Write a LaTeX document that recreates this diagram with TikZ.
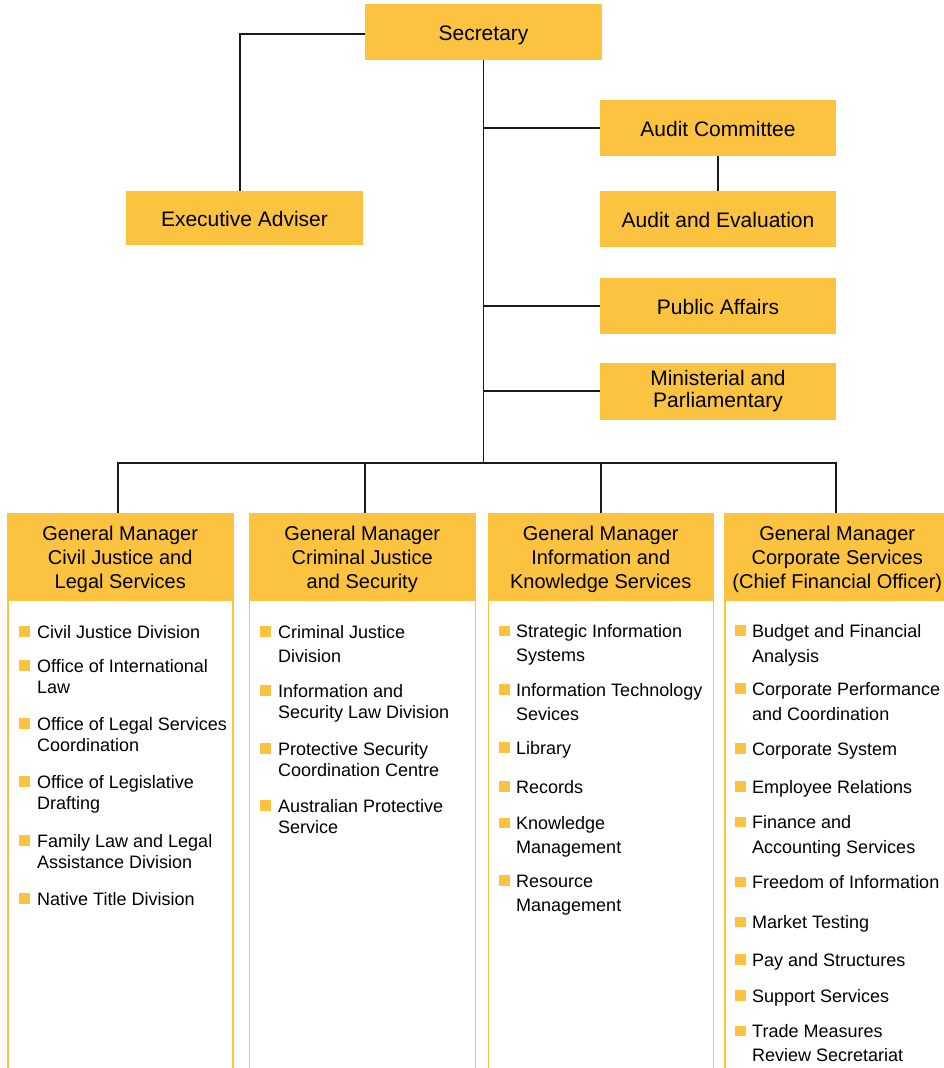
\documentclass[tikz,border=0pt]{standalone}
\usepackage{fontspec}
\setmainfont{Liberation Sans}
\definecolor{gold}{HTML}{FBC33F}
\definecolor{lnk}{HTML}{1A1A1A}
\newcommand\mytxt[2]{\parbox[t]{205pt}{\raggedright\fontsize{18}{#1}\selectfont #2}}
\newcommand\myitem[6]{%
  \node[bul] (#1b) at (#2,#4-6.5) {};
  \node[itm] (#1) at (#3,#4) {\mytxt{#5}{#6}};}
\newcommand\hstrut{\rule{0pt}{19.6pt}}
\begin{document}
\begin{tikzpicture}[x=1pt,y=-1pt,
  topbox/.style={rectangle, fill=gold, inner sep=0pt, font=\fontsize{21}{22}\selectfont, align=center},
  onel/.style={text height=16pt, text depth=0pt},
  colbox/.style={rectangle, draw=gold, line width=1.5pt, fill=white, inner sep=0pt, anchor=north west, minimum height=620pt},
  hdrbox/.style={rectangle, fill=gold, inner sep=0pt, font=\fontsize{20}{24}\selectfont, align=center, anchor=north, minimum height=88pt},
  bul/.style={rectangle, fill=gold, inner sep=0pt, minimum width=11pt, minimum height=10.5pt},
  itm/.style={inner sep=0pt, anchor=base west},
  conn/.style={draw=lnk, line width=1.3pt}]
\useasboundingbox (0,0) rectangle (944,1068);
\fill[white] (0,0) rectangle (944,1068);

% top boxes
\node[topbox, onel, minimum width=237pt, minimum height=56pt] (sec) at (483.5,32) {Secretary};
\node[topbox, onel, minimum width=237pt, minimum height=54pt] (exec) at (244.5,218) {Executive Adviser};
\node[topbox, onel, minimum width=236pt, minimum height=56pt] (aud) at (718,128) {Audit Committee};
\node[topbox, onel, minimum width=236pt, minimum height=56pt] (aev) at (718,219) {Audit and Evaluation};
\node[topbox, onel, minimum width=236pt, minimum height=56pt] (pub) at (718,306) {Public Affairs};
\node[topbox, minimum width=236pt, minimum height=57pt] (min) at (718,391) {Ministerial and\\Parliamentary};

% connectors top
\coordinate (busc) at (483.5,463);
\draw[conn] ([yshift=-2pt]sec.west) -| ([xshift=-4.5pt]exec.north);
\draw[conn] (sec.south) -- (busc);
\draw[conn] (sec.south |- aud.west) -- (aud.west);
\draw[conn] (sec.south |- pub.west) -- (pub.west);
\draw[conn] (sec.south |- min.west) -- (min.west);
\draw[conn] (aud.south) -- (aev.north);

% columns
\begin{scope}
\clip (0,0) rectangle (944,1068);
\node[colbox, minimum width=225pt] (col1) at (7,513) {};
\node[colbox, minimum width=226pt] (col2) at (248.5,513) {};
\node[colbox, minimum width=225pt] (col3) at (487.5,513) {};
\node[colbox, minimum width=225pt] (col4) at (724,513) {};
\end{scope}
\node[hdrbox, minimum width=226.5pt] (h1) at (col1.north) {\hstrut General Manager\\Civil Justice and\\Legal Services};
\node[hdrbox, minimum width=227.5pt] (h2) at (col2.north) {\hstrut General Manager\\Criminal Justice\\and Security};
\node[hdrbox, minimum width=226.5pt] (h3) at (col3.north) {\hstrut General Manager\\Information and\\Knowledge Services};
\node[hdrbox, minimum width=226.5pt] (h4) at (col4.north) {\hstrut General Manager\\Corporate Services\\(Chief Financial Officer)};

% bus
\coordinate (d1) at (118,463);
\coordinate (d2) at (365,463);
\coordinate (d3) at (601,463);
\coordinate (d4) at (836,463);
\draw[conn] (d1 |- h1.north) -- (d1) -- (d4) -- (d4 |- h4.north);
\draw[conn] (d2) -- (d2 |- h2.north);
\draw[conn] (d3) -- (d3 |- h3.north);

% column 1
\myitem{c1a}{24.5}{37}{638}{21.5}{Civil Justice Division}
\myitem{c1b}{24.5}{37}{672}{21.5}{Office of International\\Law}
\myitem{c1c}{24.5}{37}{730}{21.5}{Office of Legal Services\\Coordination}
\myitem{c1d}{24.5}{37}{788}{21.5}{Office of Legislative\\Drafting}
\myitem{c1e}{24.5}{37}{847}{21.5}{Family Law and Legal\\Assistance Division}
\myitem{c1f}{24.5}{37}{905}{21.5}{Native Title Division}

% column 2
\myitem{c2a}{265.5}{278}{638}{24}{Criminal Justice\\Division}
\myitem{c2b}{265.5}{278}{697}{21}{Information and\\Security Law Division}
\myitem{c2c}{265.5}{278}{755}{21}{Protective Security\\Coordination Centre}
\myitem{c2d}{265.5}{278}{812}{21}{Australian Protective\\Service}

% column 3
\myitem{c3a}{504}{516}{637.5}{24}{Strategic Information\\Systems}
\myitem{c3b}{504}{516}{696}{24}{Information Technology\\Sevices}
\myitem{c3c}{504}{516}{754}{24}{Library}
\myitem{c3d}{504}{516}{793}{24}{Records}
\myitem{c3e}{504}{516}{829.5}{24}{Knowledge\\Management}
\myitem{c3f}{504}{516}{887}{24}{Resource\\Management}

% column 4
\myitem{c4a}{740}{752}{637}{25}{Budget and Financial\\Analysis}
\myitem{c4b}{740}{752}{695}{25}{Corporate Performance\\and Coordination}
\myitem{c4c}{740}{752}{755}{25}{Corporate System}
\myitem{c4d}{740}{752}{793}{25}{Employee Relations}
\myitem{c4e}{740}{752}{828.5}{25}{Finance and\\Accounting Services}
\myitem{c4f}{740}{752}{888.5}{25}{Freedom of Information}
\myitem{c4g}{740}{752}{928.5}{25}{Market Testing}
\myitem{c4h}{740}{752}{966}{25}{Pay and Structures}
\myitem{c4i}{740}{752}{1002}{25}{Support Services}
\myitem{c4j}{740}{752}{1037.5}{23.5}{Trade Measures\\Review Secretariat}
\end{tikzpicture}
\end{document}
